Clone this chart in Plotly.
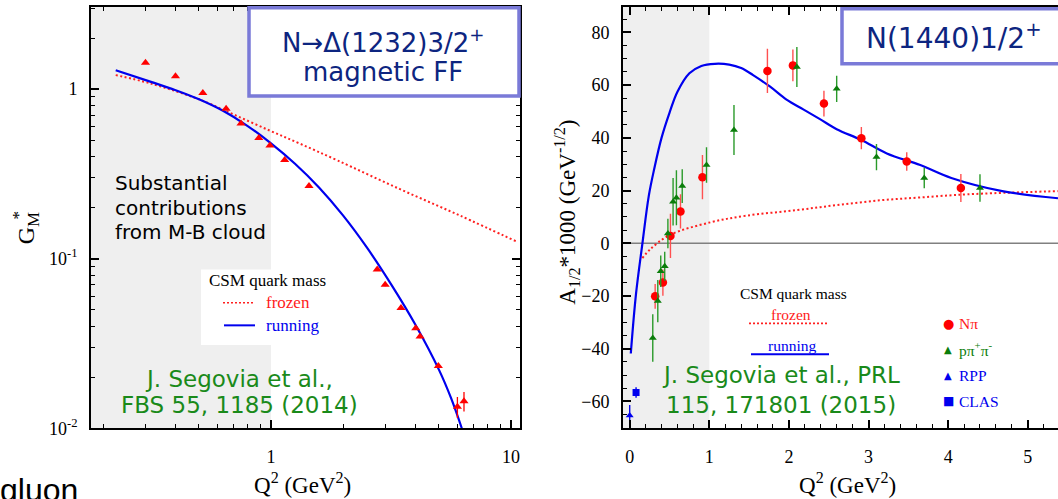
import math
import plotly.graph_objects as go

W, H = 1058, 499
SERIF = "Liberation Serif, Times New Roman, serif"
COMIC = "Comic Sans MS, DejaVu Sans, sans-serif"
SANS = "Liberation Sans, Arial, sans-serif"

# ---------------- data: left panel, N -> Delta(1232) magnetic FF ----------------
gm_q2 = [0.30, 0.40, 0.52, 0.65, 0.75, 0.89, 0.99, 1.14, 1.44, 2.77, 2.99, 3.48, 4.01, 4.18, 4.98, 5.98, 6.37]
gm_val = [1.43, 1.19, 0.948, 0.766, 0.628, 0.516, 0.466, 0.382, 0.268, 0.0864, 0.0701, 0.0512,
          0.0389, 0.0348, 0.0233, 0.0134, 0.01445]
gm_err = [0.02, 0.02, 0.015, 0.012, 0.01, 0.008, 0.007, 0.006, 0.004, 0.0015, 0.0012, 0.001,
          0.0008, 0.0008, 0.0006, 0.0019, 0.0019]

gm_run_q2 = [0.2254, 0.3162, 0.3981, 0.5012, 0.631, 0.794, 1.0, 1.259, 1.585, 1.995, 2.512,
             3.162, 3.981, 5.012, 5.623, 6.237]
gm_run = [1.294, 1.104, 0.989, 0.871, 0.745, 0.610, 0.479, 0.363, 0.263, 0.180, 0.1161,
          0.0708, 0.0412, 0.0221, 0.0151, 0.0100]

gm_froz_q2 = [0.2254, 0.313, 0.506, 0.697, 0.99, 1.32, 1.90, 3.45, 6.13, 10.66]
gm_froz = [1.21, 1.083, 0.867, 0.710, 0.569, 0.477, 0.379, 0.257, 0.1796, 0.1254]

left_xticks = [1, 10]
left_xtext = ["1", "10"]
left_xminor = [0.2, 0.3, 0.4, 0.5, 0.6, 0.7, 0.8, 0.9, 2, 3, 4, 5, 6, 7, 8, 9]
left_yticks = [0.01, 0.1, 1]
left_ytext = ["10<sup>-2</sup>", "10<sup>-1</sup>", "1"]
left_yminor = [0.02, 0.03, 0.04, 0.05, 0.06, 0.07, 0.08, 0.09,
               0.2, 0.3, 0.4, 0.5, 0.6, 0.7, 0.8, 0.9, 2, 3]

# ---------------- data: right panel, N(1440)1/2+ helicity amplitude ----------------
npi_q2 = [0.32, 0.417, 0.512, 0.638, 0.914, 1.73, 2.05, 2.44, 2.91, 3.48, 4.16]
npi_a = [-20.1, -14.9, 2.8, 12.1, 25.1, 65.4, 67.5, 53.0, 39.9, 31.0, 21.0]
npi_err = [4.7, 5.0, 8.4, 6.5, 8.4, 8.4, 6.0, 4.9, 4.2, 3.5, 5.3]

ppp_q2 = [0.29, 0.353, 0.39, 0.44, 0.48, 0.545, 0.587, 0.66, 0.965, 1.31, 2.10, 2.60, 3.10, 3.70, 4.40]
ppp_a = [-35.9, -21.9, -10.6, -8.7, 3.7, 15.8, 17.3, 21.7, 29.7, 43.0, 66.9, 58.6, 32.7, 24.8, 21.0]
ppp_err = [9.0, 8.0, 6.0, 5.5, 5.6, 9.0, 10.4, 6.4, 6.7, 9.5, 7.6, 5.0, 5.0, 3.9, 5.2]

rpp_q2 = [0.0]
rpp_a = [-65.3]
rpp_err = [4.0]

clas_q2 = [0.08]
clas_a = [-56.6]
clas_err = [2.0]

a_run_q2 = [0.014, 0.08, 0.16, 0.24, 0.31, 0.40, 0.50, 0.60, 0.75, 0.90, 1.07, 1.25, 1.40, 1.55,
            1.76, 1.97, 2.18, 2.39, 2.60, 2.91, 3.23, 3.65, 4.04, 4.68, 5.38]
a_run = [-41.8, -19.0, 0.0, 18.0, 28.5, 40.0, 49.5, 57.5, 64.5, 67.3, 68.1, 67.8, 66.5, 63.8,
         59.5, 54.5, 50.8, 47.1, 43.3, 39.2, 34.1, 29.7, 24.8, 19.8, 17.1]

a_froz_q2 = [0.16, 0.25, 0.50, 1.02, 1.47, 2.10, 2.60, 3.14, 3.65, 4.25, 5.38]
a_froz = [-5.6, -2.5, 3.1, 8.0, 10.5, 12.6, 14.5, 16.3, 17.4, 18.6, 19.8]

right_xticks = [0, 1, 2, 3, 4, 5]
right_yticks = [-60, -40, -20, 0, 20, 40, 60, 80]

# ---------------- layout geometry (pixels) ----------------
LX0, LX1 = 91, 520
RX0, RX1 = 623, 1058
YT, YB = 7, 437

lx_range = [-0.75, 1.0375]
ly_range = [-2.0, 0.4855]
rx_range = [-0.084, 5.38]
ry_range = [-70.15, 89.7]


def px(x):
    return x / W


def py(y):
    return 1 - y / H


RED = "#ff0000"
BLUE = "#0000ee"
GREEN = "#0a7d0a"
TXTGREEN = "#1a8a1a"
NAVY = "#0d2580"
BOXLINE = "#7a7ad8"

fig = go.Figure()

# ---- left traces ----
fig.add_trace(go.Scatter(x=gm_froz_q2, y=gm_froz, mode="lines", xaxis="x", yaxis="y",
                         line=dict(color="#ff2020", width=2, dash="2px,2.5px", shape="spline"),
                         showlegend=False, hoverinfo="skip"))
fig.add_trace(go.Scatter(x=gm_run_q2, y=gm_run, mode="lines", xaxis="x", yaxis="y",
                         line=dict(color=BLUE, width=2.2, shape="spline"),
                         showlegend=False, hoverinfo="skip"))
fig.add_trace(go.Scatter(x=gm_q2, y=gm_val, mode="markers", xaxis="x", yaxis="y",
                         marker=dict(symbol="triangle-up", size=8, color=RED),
                         error_y=dict(type="data", array=gm_err, color=RED, thickness=1.3, width=0),
                         showlegend=False))

# ---- right traces ----
fig.add_trace(go.Scatter(x=a_froz_q2, y=a_froz, mode="lines", xaxis="x2", yaxis="y2",
                         line=dict(color="#ff2020", width=2, dash="2px,2.5px", shape="spline"),
                         showlegend=False, hoverinfo="skip"))
fig.add_trace(go.Scatter(x=a_run_q2, y=a_run, mode="lines", xaxis="x2", yaxis="y2",
                         line=dict(color=BLUE, width=2.2, shape="spline"),
                         showlegend=False, hoverinfo="skip"))
fig.add_trace(go.Scatter(x=npi_q2, y=npi_a, mode="markers", xaxis="x2", yaxis="y2",
                         marker=dict(symbol="circle", size=8.5, color=RED),
                         error_y=dict(type="data", array=npi_err, color="#ff5050", thickness=1.4, width=0),
                         showlegend=False))
fig.add_trace(go.Scatter(x=ppp_q2, y=ppp_a, mode="markers", xaxis="x2", yaxis="y2",
                         marker=dict(symbol="triangle-up", size=7, color=GREEN),
                         error_y=dict(type="data", array=ppp_err, color="#2a9a2a", thickness=1.4, width=0),
                         showlegend=False))
fig.add_trace(go.Scatter(x=rpp_q2, y=rpp_a, mode="markers", xaxis="x2", yaxis="y2",
                         marker=dict(symbol="triangle-up", size=7, color=BLUE),
                         error_y=dict(type="data", array=rpp_err, color=BLUE, thickness=1.4, width=0),
                         showlegend=False, cliponaxis=False))
fig.add_trace(go.Scatter(x=clas_q2, y=clas_a, mode="markers", xaxis="x2", yaxis="y2",
                         marker=dict(symbol="square", size=7, color=BLUE),
                         error_y=dict(type="data", array=clas_err, color=BLUE, thickness=1.4, width=0),
                         showlegend=False))

axis_common = dict(showgrid=False, zeroline=False, showline=True, linecolor="black", linewidth=1.8,
                   ticks="inside", ticklen=8, tickwidth=1.5, tickcolor="black",
                   tickfont=dict(family=SERIF, size=18, color="black"))
minor_common = dict(ticks="inside", ticklen=4, tickwidth=1.2, tickcolor="black", showgrid=False)

ydom = [py(YB), py(YT)]

layout = dict(
    width=W, height=H, margin=dict(l=0, r=0, t=0, b=0),
    paper_bgcolor="white", plot_bgcolor="rgba(0,0,0,0)",
    showlegend=False,
    xaxis=dict(axis_common, domain=[px(LX0), px(LX1)], type="log", range=lx_range, anchor="y",
               tickmode="array", tickvals=left_xticks, ticktext=left_xtext, mirror="ticks",
               ticklabelstandoff=11,
               minor=dict(minor_common, tickmode="array", tickvals=left_xminor)),
    yaxis=dict(axis_common, domain=ydom, type="log", range=ly_range, anchor="x",
               tickmode="array", tickvals=left_yticks, ticktext=left_ytext, mirror="ticks",
               ticklabelstandoff=8,
               minor=dict(minor_common, tickmode="array", tickvals=left_yminor)),
    xaxis2=dict(axis_common, domain=[px(RX0), px(RX1)], range=rx_range, anchor="y2",
                tickmode="array", tickvals=right_xticks, mirror="ticks", ticklabelstandoff=11,
                minor=dict(minor_common, dtick=0.2, tick0=0)),
    yaxis2=dict(axis_common, domain=ydom, range=ry_range, anchor="x2",
                tickmode="array", tickvals=right_yticks, mirror=False, ticklabelstandoff=8,
                minor=dict(minor_common, dtick=5, tick0=0)),
)
fig.update_layout(**layout)

# ---------------- shapes ----------------
shapes = []
lfrac1 = (0 - lx_range[0]) / (lx_range[1] - lx_range[0])  # Q2 = 1 on log axis
shapes.append(dict(type="rect", xref="x domain", yref="y domain", x0=0, x1=lfrac1, y0=0, y1=1,
                   fillcolor="#efefef", line=dict(width=0), layer="below"))


def ldx(p):
    return (p - LX0) / (LX1 - LX0)


def ldy(p):
    return (YB - p) / (YB - YT)


shapes.append(dict(type="rect", xref="x domain", yref="y domain", x0=ldx(201), x1=ldx(290),
                   y0=ldy(352), y1=ldy(275), fillcolor="white", line=dict(width=0), layer="below"))
shapes.append(dict(type="rect", xref="x2", yref="y2", x0=rx_range[0], x1=1,
                   y0=ry_range[0], y1=ry_range[1],
                   fillcolor="#efefef", line=dict(width=0), layer="below"))
shapes.append(dict(type="line", xref="x2", yref="y2", x0=rx_range[0], x1=rx_range[1], y0=0, y1=0,
                   line=dict(color="#808080", width=1.5), layer="below"))

# legend sample lines
shapes.append(dict(type="line", xref="paper", yref="paper", x0=px(223), x1=px(255), y0=py(309), y1=py(309),
                   line=dict(color="#ff2020", width=1.6, dash="2px,2px"), layer="above"))
shapes.append(dict(type="line", xref="paper", yref="paper", x0=px(224), x1=px(255), y0=py(332), y1=py(332),
                   line=dict(color=BLUE, width=2), layer="above"))
shapes.append(dict(type="line", xref="paper", yref="paper", x0=px(749), x1=px(828), y0=py(330), y1=py(330),
                   line=dict(color="#ff2020", width=1.6, dash="2px,2px"), layer="above"))
shapes.append(dict(type="line", xref="paper", yref="paper", x0=px(751), x1=px(829), y0=py(361.5), y1=py(361.5),
                   line=dict(color=BLUE, width=2), layer="above"))

# title boxes
shapes.append(dict(type="rect", xref="paper", yref="paper", x0=px(249), x1=px(519), y0=py(98), y1=py(8),
                   fillcolor="white", line=dict(color=BOXLINE, width=3.5), layer="above"))
shapes.append(dict(type="rect", xref="paper", yref="paper", x0=px(842), x1=px(1075), y0=py(65), y1=py(9),
                   fillcolor="white", line=dict(color=BOXLINE, width=3.5), layer="above"))
fig.update_layout(shapes=shapes)

# ---------------- annotations ----------------
ann = []


def add(text, x, y, size, color="black", family=SERIF, xanchor="center", yanchor="middle",
        align="center", angle=0):
    ann.append(dict(text=text, x=px(x), y=py(y), xref="paper", yref="paper", showarrow=False,
                    xanchor=xanchor, yanchor=yanchor, align=align, textangle=angle,
                    font=dict(family=family, size=size, color=color)))


# left panel texts
add("N→Δ(1232)3/2<sup>+</sup>", 383, 42, 26, NAVY, COMIC)
add("magnetic FF", 383, 73, 26, NAVY, COMIC)
add("Substantial", 113, 187, 20, "black", COMIC, xanchor="left")
add("contributions", 113, 212, 20, "black", COMIC, xanchor="left")
add("from M-B cloud", 113, 237, 20, "black", COMIC, xanchor="left")
add("J. Segovia et al.,", 239, 387, 23, TXTGREEN, COMIC)
add("FBS 55, 1185 (2014)", 239, 413, 23, TXTGREEN, COMIC)
add("CSM quark mass", 207, 286, 17, "black", xanchor="left")
add("frozen", 264, 309, 17, "#ff1a1a", xanchor="left")
add("running", 264, 332, 17, BLUE, xanchor="left")
add("G<sub>M</sub>", 28, 233, 24, angle=-90)
add("*", 19, 220, 17, angle=-90)
add("Q<sup>2</sup> (GeV<sup>2</sup>)", 302, 493, 23)
add("gluon", -2, 500, 32, "black", SANS, xanchor="left")

# right panel texts
add("N(1440)1/2<sup>+</sup>", 954, 37, 28, NAVY, COMIC)
add("J. Segovia et al., PRL", 781, 383, 23, TXTGREEN, COMIC)
add("115, 171801 (2015)", 781, 413, 23, TXTGREEN, COMIC)
add("CSM quark mass", 793, 300, 15.5)
add("frozen", 791, 320.5, 15.5, "#ff1a1a")
add("running", 792, 352.5, 15.5, BLUE)
add("●", 948, 330, 13, RED, "DejaVu Sans")
add("▲", 948, 356.5, 10, GREEN, "DejaVu Sans")
add("▲", 948, 383, 10, BLUE, "DejaVu Sans")
add("■", 948, 409.5, 12, BLUE, "DejaVu Sans")
add("Nπ", 957, 330, 15.5, "#ff1a1a", xanchor="left")
add("pπ<sup>+</sup>π<sup>-</sup>", 957, 356.5, 15.5, GREEN, xanchor="left")
add("RPP", 957, 383, 15.5, BLUE, xanchor="left")
add("CLAS", 957, 409.5, 15.5, BLUE, xanchor="left")
add("A<sub>1/2</sub>*1000 (GeV<sup>-1/2</sup>)", 567, 217, 23, angle=-90)
add("Q<sup>2</sup> (GeV<sup>2</sup>)", 847, 493, 23)

fig.update_layout(annotations=ann)

fig.write_html("out.html", config={"displayModeBar": False},
               post_script="document.body.style.margin='0';document.body.style.padding='0';")
